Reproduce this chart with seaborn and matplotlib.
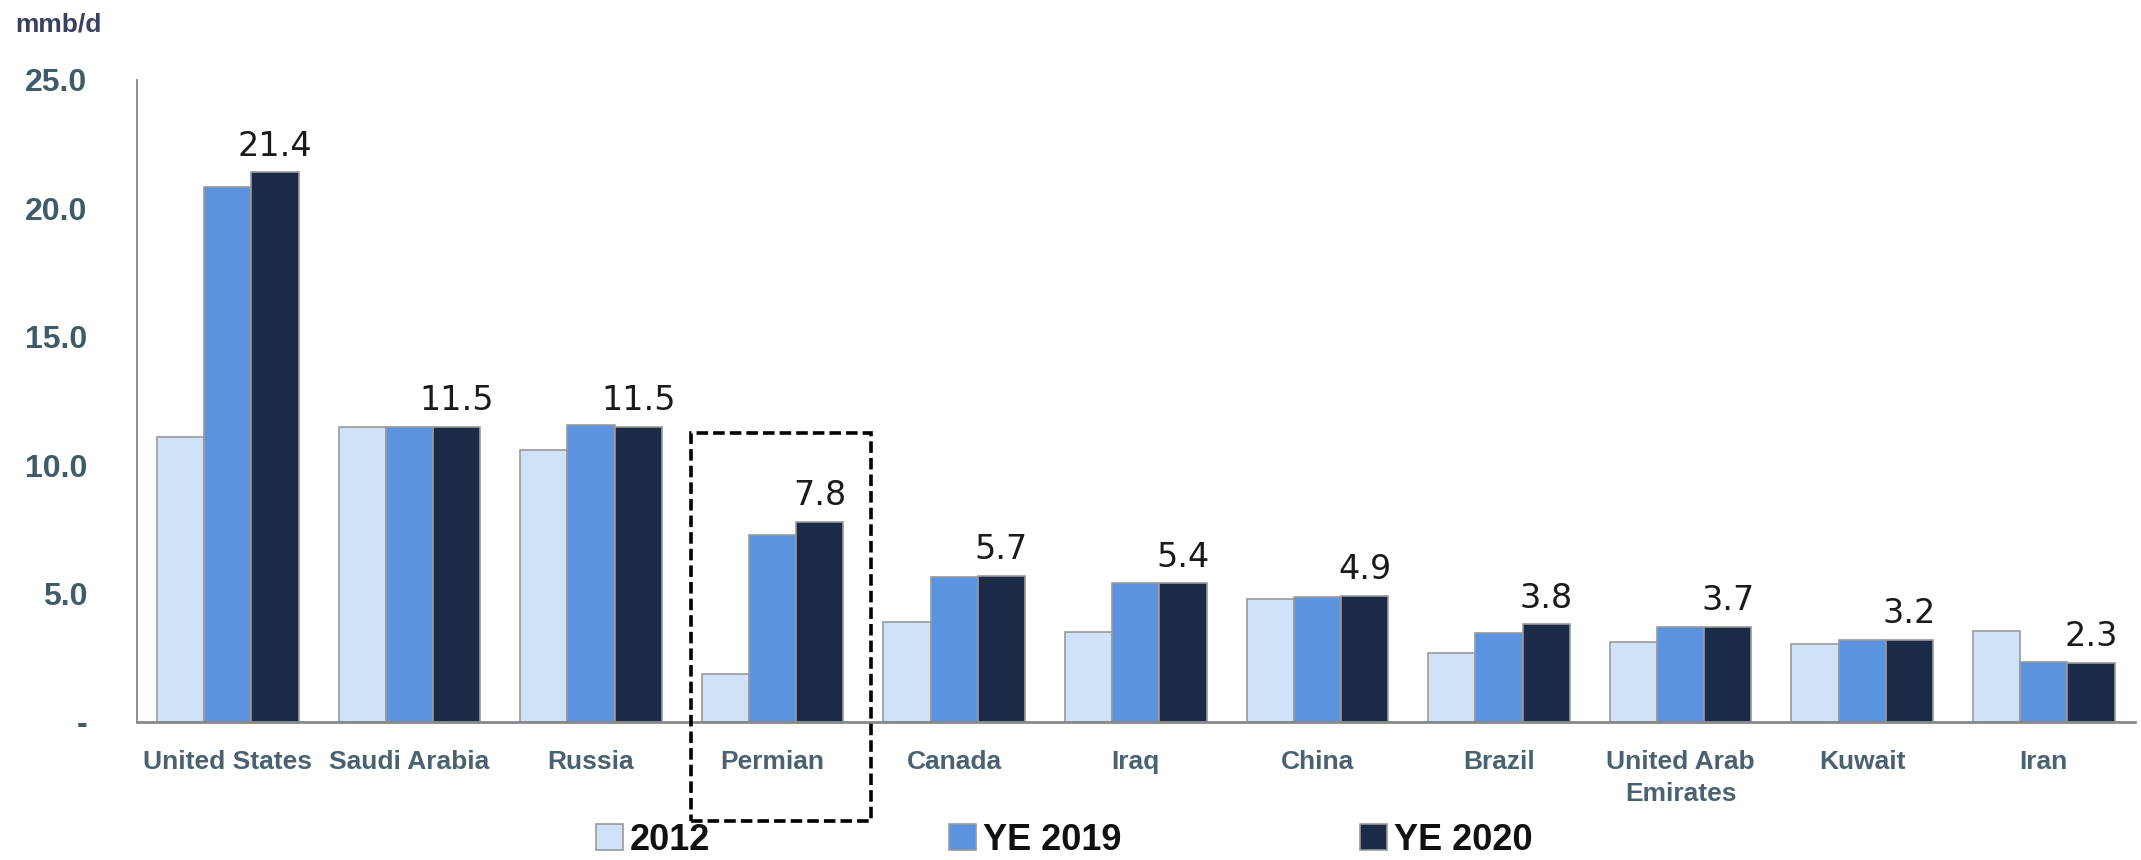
import matplotlib
matplotlib.use("Agg")
import matplotlib.pyplot as plt
from matplotlib.patches import Rectangle
from matplotlib.ticker import FixedLocator, FuncFormatter
import numpy as np
import pandas as pd
import seaborn as sns

# Liquids production by producer, mmb/d
countries = ["United States", "Saudi Arabia", "Russia", "Permian", "Canada", "Iraq",
             "China", "Brazil", "United Arab\nEmirates", "Kuwait", "Iran"]
prod_2012 = [11.1, 11.5, 10.6, 1.85, 3.9, 3.5, 4.8, 2.7, 3.1, 3.05, 3.55]
prod_ye2019 = [20.85, 11.5, 11.55, 7.3, 5.65, 5.4, 4.85, 3.45, 3.7, 3.2, 2.35]
prod_ye2020 = [21.4, 11.5, 11.5, 7.8, 5.7, 5.4, 4.9, 3.8, 3.7, 3.2, 2.3]
series = ["2012", "YE 2019", "YE 2020"]
y_ticks = [0, 5, 10, 15, 20, 25]
highlight = "Permian"

colors = {"2012": "#d0e2f8", "YE 2019": "#5b93e0", "YE 2020": "#1b2a47"}

df = pd.DataFrame({"country": countries, "2012": prod_2012,
                   "YE 2019": prod_ye2019, "YE 2020": prod_ye2020})
long = df.melt(id_vars="country", value_vars=series, var_name="series", value_name="value")

sns.set_style("white")
sans = ["Liberation Sans", "DejaVu Sans"]
plt.rcParams["font.family"] = sans

fig = plt.figure(figsize=(21.41, 8.6), dpi=100)
ax = fig.add_axes([0.064, 0.1605, 0.933, 0.7465])

sns.barplot(data=long, x="country", y="value", hue="series", order=countries,
            hue_order=series, palette=colors, saturation=1, width=0.78,
            edgecolor="#9a9a9a", linewidth=1.2, ax=ax)

handles, labels = ax.get_legend_handles_labels()
if ax.legend_ is not None:
    ax.legend_.remove()

# value labels above the YE 2020 bars
ax.bar_label(ax.containers[2], labels=[f"{v:.1f}" for v in prod_ye2020],
             padding=7, fontsize=24, color="#1a1a1a", family="DejaVu Sans")

ax.set_ylim(0, 25)
ax.set_xlim(-0.5, len(countries) - 0.5)
ax.set_xlabel("")
ax.set_ylabel("")

ax.yaxis.set_major_locator(FixedLocator(y_ticks))
ax.yaxis.set_major_formatter(FuncFormatter(lambda v, p: "-" if v == 0 else f"{v:.1f}"))
ax.tick_params(axis="y", direction="in", length=7, width=1.2, color="#888888",
               pad=36, labelsize=23, labelcolor="#3e5c68")
for t in ax.get_yticklabels():
    t.set_fontweight("bold")

# category labels, with ticks at group boundaries
ax.set_xticks(np.arange(len(countries)))
ax.set_xticklabels(countries, fontsize=19, fontweight="bold", color="#4a6270",
                   linespacing=1.45)
ax.tick_params(axis="x", length=0, pad=20)
ax.set_xticks(np.arange(len(countries) + 1) - 0.5, minor=True)
ax.tick_params(axis="x", which="minor", direction="out", length=6, width=1.5,
               color="#888888")

for side in ["top", "right"]:
    ax.spines[side].set_visible(False)
ax.spines["left"].set_color("#888888")
ax.spines["left"].set_linewidth(1.3)
ax.spines["bottom"].set_color("#888888")
ax.spines["bottom"].set_linewidth(2)

# dashed frame around the highlighted basin
idx = countries.index(highlight)
frame = Rectangle((idx - 0.45, -3.85), 0.99, 15.1, fill=False, edgecolor="black",
                  linewidth=2.6, linestyle=(0, (3.2, 1.4)), clip_on=False, zorder=5)
ax.add_patch(frame)

fig.text(0.007, 0.972, "mmb/d", fontsize=19, fontweight="bold", color="#3a4160",
         va="center")

leg = fig.legend(handles, labels, loc="center", bbox_to_anchor=(0.497, 0.023), ncol=3,
                 frameon=False, handlelength=0.75, handleheight=0.75, handletextpad=0.2,
                 columnspacing=6.6, borderpad=0.1,
                 prop={"weight": "bold", "size": 26})
for t in leg.get_texts():
    t.set_color("#111111")

fig.savefig("out.png", dpi=100, facecolor="white")
